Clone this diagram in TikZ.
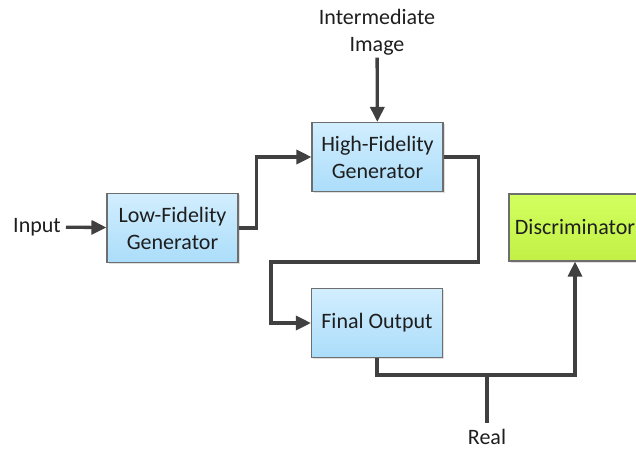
\documentclass[tikz,border=0pt]{standalone}
\usepackage{fontspec}
\setmainfont{Carlito}
\usetikzlibrary{arrows.meta,shadows}
\definecolor{linegray}{HTML}{404040}
\definecolor{boxborder}{HTML}{6E6E6E}
\definecolor{bluetop}{HTML}{D2EEFE}
\definecolor{bluebot}{HTML}{ABDDFA}
\definecolor{limetop}{HTML}{D2FF5E}
\definecolor{limebot}{HTML}{C2F046}
\definecolor{txt}{HTML}{1E1E1E}
\tikzset{
  box/.style={draw=boxborder, line width=1.1pt, align=center, text=txt,
    minimum width=131pt, minimum height=69pt, inner sep=2pt,
    drop shadow={shadow xshift=1.5pt, shadow yshift=-1.5pt, opacity=0.25}},
  bluebox/.style={box, top color=bluetop, bottom color=bluebot},
  limebox/.style={box, top color=limetop, bottom color=limebot},
  lbl/.style={align=center, text=txt, inner sep=2pt},
  conn/.style={draw=linegray, line width=3.3pt},
  arr/.style={conn, -{Triangle[length=15pt,width=14pt]}},
}
\begin{document}
\begin{tikzpicture}[x=1pt,y=-1pt, font=\fontsize{22}{27}\selectfont]
\useasboundingbox (0,0) rectangle (636,450);
\clip (0,0) rectangle (636,450);
\node[bluebox] (lf) at (172.5,228) {Low-Fidelity\\Generator};
\node[bluebox] (hf) at (377.5,157) {High-Fidelity\\Generator};
\node[bluebox] (fo) at (377,323) {Final Output};
\node[limebox, minimum width=132pt, minimum height=67pt] (disc) at (575,227.5) {Discriminator};
\node[lbl] (input) at (37,227) {Input};
\node[lbl] (inter) at (377,32.5) {Intermediate\\Image};
\node[text=txt, inner sep=1pt] (real) at (487,436.5) {Real};
\coordinate (j) at (487,375);

\draw[arr, shorten <=3pt] (input) -- (lf);
\draw[arr] (lf.east) -- ++(18,0) |- (hf.west);
\draw[arr] (inter) -- (hf);
\draw[arr] (hf.east) -- ++(35,0) -- ++(0,105) -| ([xshift=-40pt]fo.west) -- (fo.west);
\draw[arr] (fo.south) -- ++(0,17) -| (disc.south);
\draw[conn, shorten <=5pt] (real) -- (j);
\end{tikzpicture}
\end{document}
